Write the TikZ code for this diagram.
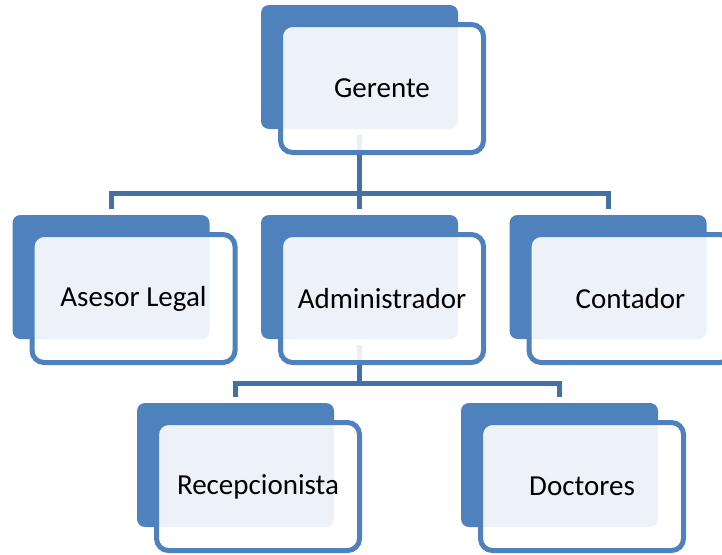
\documentclass[tikz,border=0pt]{standalone}
\usepackage{fontspec}
\setmainfont{Carlito}
\definecolor{boxblue}{HTML}{4F81BD}
\definecolor{linkblue}{HTML}{4470A5}
\begin{document}
\begin{tikzpicture}[x=1pt,y=-1pt,
  darkbox/.style={fill=boxblue,draw=none,rounded corners=8pt,minimum width=197pt,minimum height=124pt,inner sep=0pt},
  outbox/.style={draw=boxblue,line width=5pt,fill=white,fill opacity=0.9,text opacity=1,rounded corners=12pt,minimum width=203pt,minimum height=128pt,inner sep=0pt,font=\fontsize{29}{34}\selectfont,text=black},
  conn/.style={draw=linkblue,line width=5pt}]
\useasboundingbox (0,0) rectangle (722,554);
\clip (0,0) rectangle (722,554);
\coordinate (h1) at (0,193);
\coordinate (h2) at (0,383);
% dark back boxes
\node[darkbox] (g) at (359.5,67) {};
\node[darkbox] (a) at (111,277) {};
\node[darkbox] (ad) at (359.5,277) {};
\node[darkbox] (c) at (608,277) {};
\node[darkbox] (r) at (235.5,465) {};
\node[darkbox] (d) at (559.5,465) {};
% connectors
\draw[conn] ([yshift=6pt]a.north) -- (a.north |- h1) -- (c.north |- h1) -- ([yshift=6pt]c.north);
\draw[conn] ([yshift=-6pt]g.south) -- ([yshift=6pt]ad.north);
\draw[conn] ([yshift=6pt]r.north) -- (r.north |- h2) -- (d.north |- h2) -- ([yshift=6pt]d.north);
\draw[conn] ([yshift=-6pt]ad.south) -- (ad.south |- h2);
% front boxes
\node[outbox] (gt) at (382,88.5) {Gerente};
\node[outbox] (at) at (133.5,298.5) {Asesor Legal};
\node[outbox] (adt) at (382,298.5) {Administrador};
\node[outbox] (ct) at (630.5,298.5) {Contador};
\node[outbox] (rt) at (258,486.5) {Recepcionista};
\node[outbox] (dt) at (582,486.5) {Doctores};
\end{tikzpicture}
\end{document}
